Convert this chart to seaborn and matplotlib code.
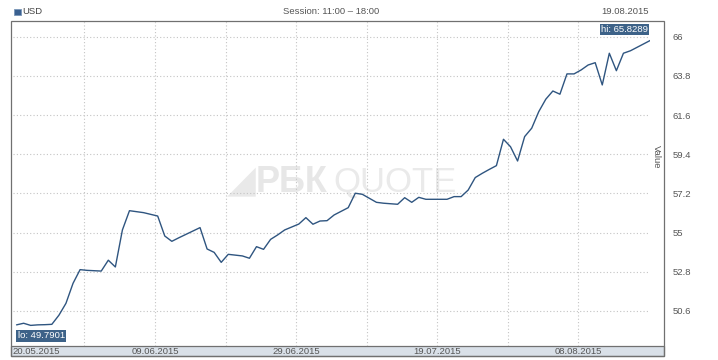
import matplotlib
matplotlib.use("Agg")
import matplotlib.pyplot as plt
from matplotlib.patches import Rectangle
import matplotlib.transforms as mtransforms
import seaborn as sb
import pandas as pd
import numpy as np

# USD rate
dates = ['2015-05-20', '2015-05-21', '2015-05-22', '2015-05-23', '2015-05-24', '2015-05-25',
         '2015-05-26', '2015-05-27', '2015-05-28', '2015-05-29', '2015-05-30', '2015-06-01',
         '2015-06-02', '2015-06-03', '2015-06-04', '2015-06-05', '2015-06-07', '2015-06-09',
         '2015-06-10', '2015-06-11', '2015-06-12', '2015-06-15', '2015-06-16', '2015-06-17',
         '2015-06-18', '2015-06-19', '2015-06-21', '2015-06-22', '2015-06-23', '2015-06-24',
         '2015-06-25', '2015-06-26', '2015-06-27', '2015-06-29', '2015-06-30', '2015-07-01',
         '2015-07-02', '2015-07-03', '2015-07-04', '2015-07-06', '2015-07-07', '2015-07-08',
         '2015-07-10', '2015-07-11', '2015-07-13', '2015-07-14', '2015-07-15', '2015-07-16',
         '2015-07-17', '2015-07-20', '2015-07-21', '2015-07-22', '2015-07-23', '2015-07-24',
         '2015-07-25', '2015-07-26', '2015-07-27', '2015-07-28', '2015-07-29', '2015-07-30',
         '2015-07-31', '2015-08-01', '2015-08-02', '2015-08-03', '2015-08-04', '2015-08-05',
         '2015-08-06', '2015-08-07', '2015-08-08', '2015-08-09', '2015-08-10', '2015-08-11',
         '2015-08-12', '2015-08-13', '2015-08-14', '2015-08-15', '2015-08-18']
usd = [49.82, 49.91, 49.7901, 49.82, 49.83, 49.85,
       50.36, 51.03, 52.15, 52.92, 52.88, 52.84,
       53.45, 53.07, 55.15, 56.23, 56.12, 55.93,
       54.81, 54.51, 54.71, 55.28, 54.08, 53.89,
       53.33, 53.78, 53.69, 53.56, 54.21, 54.06,
       54.62, 54.87, 55.15, 55.48, 55.84, 55.47,
       55.65, 55.67, 55.99, 56.40, 57.21, 57.15,
       56.70, 56.65, 56.59, 56.96, 56.70, 56.98,
       56.87, 56.87, 57.02, 57.02, 57.39, 58.09,
       58.33, 58.55, 58.76, 60.24, 59.82, 59.02,
       60.39, 60.86, 61.79, 62.49, 62.95, 62.77,
       63.91, 63.91, 64.13, 64.41, 64.54, 63.29,
       65.07, 64.09, 65.07, 65.21, 65.8289]

yticks = [50.6, 52.8, 55, 57.2, 59.4, 61.6, 63.8, 66]
ytick_labels = ['50.6', '52.8', '55', '57.2', '59.4', '61.6', '63.8', '66']
grid_dates = ['2015-05-30', '2015-06-09', '2015-06-19', '2015-06-29', '2015-07-09',
              '2015-07-19', '2015-07-29', '2015-08-08']
label_dates = ['2015-05-20', '2015-06-09', '2015-06-29', '2015-07-19', '2015-08-08']
date_labels = ['20.05.2015', '09.06.2015', '29.06.2015', '19.07.2015', '08.08.2015']

LINE = '#2f5580'
BOX = '#3d6288'
TXT = '#555555'
FRAME = '#707070'

sb.set_style('white')
plt.rcParams['font.family'] = ['Liberation Sans', 'DejaVu Sans']

W, H = 718, 360
fig = plt.figure(figsize=(W / 100, H / 100), dpi=100)

def fx(px):
    return px / W

def fy(py):
    return 1 - py / H

ax = fig.add_axes([fx(13), fy(345.7), fx(650) - fx(13), fy(21) - fy(345.7)])
ax.set_facecolor('none')

df = pd.DataFrame({'date': pd.to_datetime(dates) + pd.Timedelta(hours=9), 'usd': usd})
sb.lineplot(data=df, x='date', y='usd', ax=ax, color=LINE, linewidth=1.0, zorder=3)

t0 = pd.Timestamp('2015-05-20')
ax.set_xlim(t0 + pd.Timedelta(days=-0.13), t0 + pd.Timedelta(days=90.14))
ax.set_ylim(48.65, 66.88)

ax.set_xticks(pd.to_datetime(grid_dates))
ax.set_xticklabels([])
ax.set_yticks(yticks)
ax.set_yticklabels(ytick_labels)
ax.yaxis.tick_right()
ax.tick_params(axis='both', length=0)
ax.tick_params(axis='y', pad=16.5, labelsize=6.8, labelcolor=TXT)
ax.grid(True, color='#c4c4c4', linewidth=0.8, linestyle=(0, (1, 2)), zorder=1)
ax.set_xlabel('')
ax.set_ylabel('')
for s in ax.spines.values():
    s.set_visible(False)

# frame and date band (drawn under the axes)
fig.patches.append(Rectangle((fx(11), fy(356)), fx(664) - fx(11), fy(345.7) - fy(356),
                             transform=fig.transFigure, facecolor='#d9e0e8',
                             edgecolor=FRAME, linewidth=0.9, zorder=-2))
fig.patches.append(Rectangle((fx(11), fy(356)), fx(664) - fx(11), fy(21) - fy(356),
                             transform=fig.transFigure, facecolor='none',
                             edgecolor=FRAME, linewidth=0.9, zorder=-2))

trans = mtransforms.blended_transform_factory(ax.transData, fig.transFigure)
for i, (d, lab) in enumerate(zip(label_dates, date_labels)):
    ax.text(pd.Timestamp(d) - pd.Timedelta(days=0.25 if i == 0 else 0), fy(351), lab,
            transform=trans, ha='left' if i == 0 else 'center', va='center',
            fontsize=6.8, color=TXT, clip_on=False, zorder=6)

# lo / hi boxes
lo_i = int(np.argmin(usd))
hi_i = int(np.argmax(usd))
ax.annotate('lo: %.4f' % usd[lo_i], xy=(df['date'][0], usd[lo_i]), xytext=(1, -6),
            textcoords='offset pixels', ha='left', va='top', fontsize=6.8, color='white',
            bbox=dict(boxstyle='square,pad=0.12', fc=BOX, ec='none'), zorder=5,
            annotation_clip=False)
ax.annotate('hi: %.4f' % usd[hi_i], xy=(df['date'][hi_i], usd[hi_i]), xytext=(-4, 6),
            textcoords='offset pixels', ha='right', va='bottom', fontsize=6.8, color='white',
            bbox=dict(boxstyle='square,pad=0.12', fc=BOX, ec='none'), zorder=5,
            annotation_clip=False)

# watermark
fig.text(fx(241), fy(182), '\u25e2', fontsize=27, color='#e9e9e9', ha='center', va='center',
         family=['DejaVu Sans'], zorder=-1)
fig.text(fx(256), fy(182), 'РБК', fontsize=26, fontweight='bold', color='#e7e7e7',
         ha='left', va='center', zorder=-1)
fig.text(fx(333), fy(182), 'QUOTE', fontsize=25, fontweight='light', color='#eaeaea',
         ha='left', va='center', family=['Liberation Sans Narrow', 'Liberation Sans'], zorder=-1)

# header
fig.patches.append(Rectangle((fx(14), fy(15)), fx(7), 6 / H, transform=fig.transFigure,
                             facecolor='#3a6090', edgecolor='#7a96b8', linewidth=0.6))
fig.text(fx(22), fy(12), 'USD', fontsize=6.8, color='#444444', ha='left', va='center')
fig.text(fx(331), fy(12), 'Session: 11:00 \u2013 18:00', fontsize=6.8, color=TXT,
         ha='center', va='center')
fig.text(fx(649), fy(12), '19.08.2015', fontsize=6.8, color=TXT, ha='right', va='center')
fig.text(fx(656), fy(157), 'Value', fontsize=6.8, color=TXT, rotation=-90,
         ha='center', va='center')

fig.savefig('out.png', dpi=100)
